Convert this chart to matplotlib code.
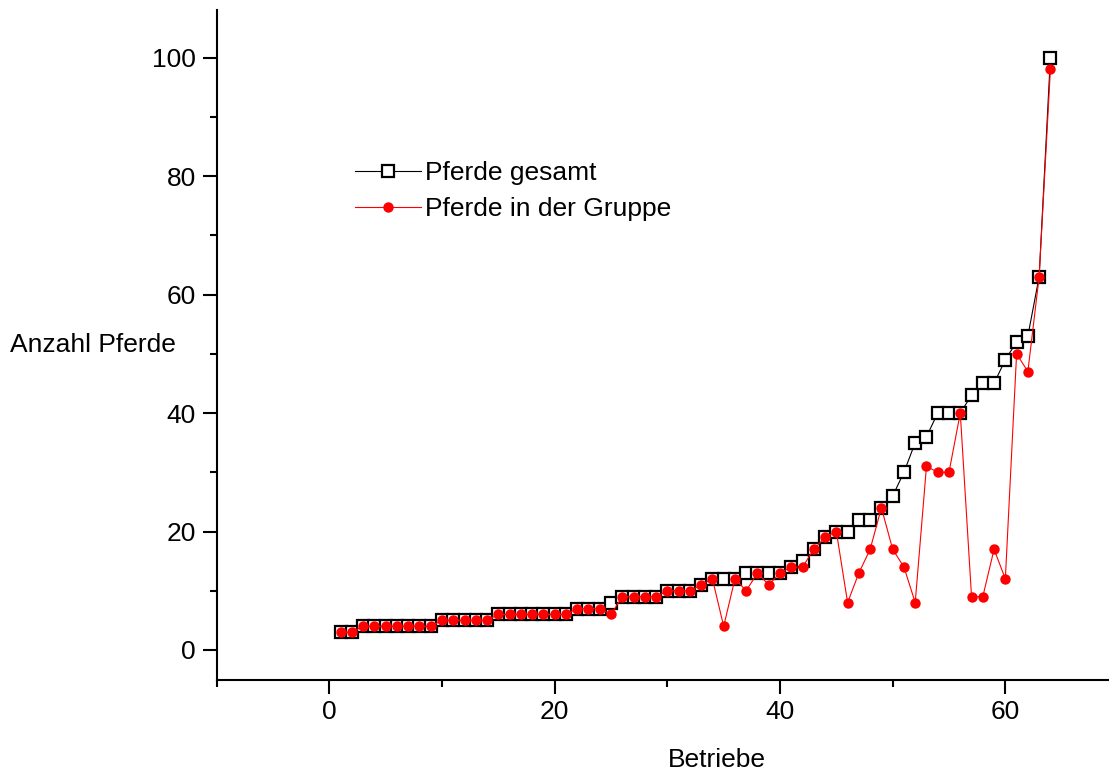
import matplotlib.pyplot as plt
from matplotlib.ticker import MultipleLocator

plt.rcParams['font.family'] = ['Liberation Sans', 'DejaVu Sans']

# Betriebe 1..64
betriebe = list(range(1, 65))

pferde_gesamt = [3, 3, 4, 4, 4, 4, 4, 4, 4, 5,
                 5, 5, 5, 5, 6, 6, 6, 6, 6, 6,
                 6, 7, 7, 7, 8, 9, 9, 9, 9, 10,
                 10, 10, 11, 12, 12, 12, 13, 13, 13, 13,
                 14, 15, 17, 19, 20, 20, 22, 22, 24, 26,
                 30, 35, 36, 40, 40, 40, 43, 45, 45, 49,
                 52, 53, 63, 100]

pferde_gruppe = [3, 3, 4, 4, 4, 4, 4, 4, 4, 5,
                 5, 5, 5, 5, 6, 6, 6, 6, 6, 6,
                 6, 7, 7, 7, 6, 9, 9, 9, 9, 10,
                 10, 10, 11, 12, 4, 12, 10, 13, 11, 13,
                 14, 14, 17, 19, 20, 8, 13, 17, 24, 17,
                 14, 8, 31, 30, 30, 40, 9, 9, 17, 12,
                 50, 47, 63, 98]

fig = plt.figure(figsize=(11.09, 7.74), dpi=100)
# axes ragen rechts etwas ueber den Rand hinaus (wie im Original abgeschnitten)
ax = fig.add_axes([216.7 / 1109, 94.4 / 774, (1118 - 216.7) / 1109, (763.8 - 94.4) / 774])

ax.plot(betriebe, pferde_gesamt, color='black', lw=0.8, marker='s', ms=9,
        mfc='white', mec='black', mew=1.6, label='Pferde gesamt', zorder=2)
ax.plot(betriebe, pferde_gruppe, color='red', lw=0.8, marker='o', ms=7.5,
        mfc='red', mec='red', mew=0, label='Pferde in der Gruppe', zorder=3)

ax.set_xlim(-10, 70)
ax.set_ylim(-5, 108)

ax.spines['top'].set_visible(False)
ax.spines['right'].set_visible(False)
ax.spines['left'].set_linewidth(1.5)
ax.spines['bottom'].set_linewidth(1.5)

ax.xaxis.set_major_locator(MultipleLocator(20))
ax.xaxis.set_minor_locator(MultipleLocator(10))
ax.yaxis.set_major_locator(MultipleLocator(20))
ax.yaxis.set_minor_locator(MultipleLocator(10))
ax.tick_params(which='major', length=10, width=1.5, labelsize=19, pad=5)
ax.tick_params(which='minor', length=5, width=1.5)

fig.text(10 / 1109, 1 - 345 / 774, 'Anzahl Pferde', fontsize=19, ha='left', va='center')
fig.text(717 / 1109, 1 - 760 / 774, 'Betriebe', fontsize=19, ha='center', va='center')

ax.legend(loc='upper left', bbox_to_anchor=(355 / 1109, 1 - 161 / 774),
          bbox_transform=fig.transFigure, frameon=False, fontsize=19,
          borderpad=0, borderaxespad=0, handlelength=2.5, handletextpad=0.15,
          labelspacing=0.47)

fig.savefig('out.png', dpi=100)
